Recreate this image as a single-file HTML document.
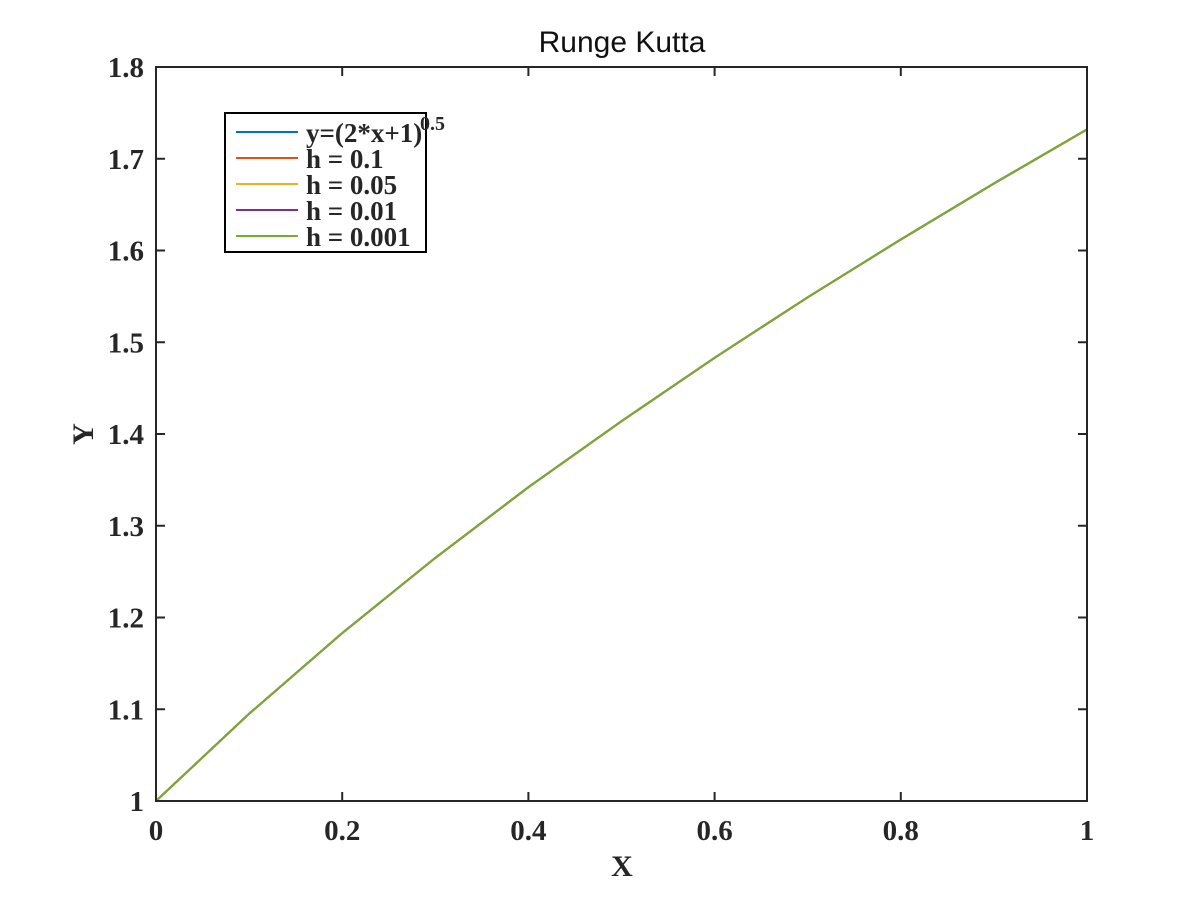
<!DOCTYPE html>
<html><head><meta charset="utf-8"><style>
html,body{margin:0;padding:0;background:#fff;}
svg text.t{font-family:"Liberation Serif",serif;font-weight:bold;font-size:29px;fill:#262626;}
</style></head><body>
<svg id="c" width="1200" height="900" xmlns="http://www.w3.org/2000/svg">
<rect width="1200" height="900" fill="#fff"/>
<text x="622" y="52" text-anchor="middle" font-family="Liberation Sans, sans-serif" font-size="30" fill="#111">Runge Kutta</text>
<g id="series"></g>
<rect x="156" y="67" width="931" height="734" fill="none" stroke="#262626" stroke-width="2"/>
<g id="axes"></g>
<text x="622" y="876" text-anchor="middle" font-family="Liberation Serif, serif" font-weight="bold" font-size="30" fill="#262626">X</text>
<text transform="translate(93,434) rotate(-90)" text-anchor="middle" font-family="Liberation Serif, serif" font-weight="bold" font-size="30" fill="#262626">Y</text>
<g>
<rect x="225" y="113" width="201" height="139" fill="#fff" stroke="#000" stroke-width="2"/>
<g id="leg"></g>
</g>
</svg>
<script>
const xs = [0,0.1,0.2,0.3,0.4,0.5,0.6,0.7,0.8,0.9,1.0];
const exact = [1,1.095,1.183,1.265,1.342,1.414,1.483,1.549,1.612,1.673,1.732];
const h01 = [1,1.095,1.183,1.265,1.342,1.414,1.483,1.549,1.612,1.673,1.732];
const h005 = [1,1.095,1.183,1.265,1.342,1.414,1.483,1.549,1.612,1.673,1.732];
const h0001 = [1,1.095,1.183,1.265,1.342,1.414,1.483,1.549,1.612,1.673,1.732];
const h00001 = [1,1.095,1.183,1.265,1.342,1.414,1.483,1.549,1.612,1.673,1.732];
const xTicks = [0,0.2,0.4,0.6,0.8,1];
const xTickLabels = ["0","0.2","0.4","0.6","0.8","1"];
const yTicks = [1,1.1,1.2,1.3,1.4,1.5,1.6,1.7,1.8];
const yTickLabels = ["1","1.1","1.2","1.3","1.4","1.5","1.6","1.7","1.8"];
const legendLabels = ["y=(2*x+1)","h = 0.1","h = 0.05","h = 0.01","h = 0.001"];

const NS="http://www.w3.org/2000/svg";
const L=156,R=1087,T=67,B=801;
const sx=v=>L+(v-0)/(1-0)*(R-L);
const sy=v=>B-(v-1)/(1.8-1)*(B-T);
function mk(tag,attrs,parent){const e=document.createElementNS(NS,tag);for(const k in attrs)e.setAttribute(k,attrs[k]);parent.appendChild(e);return e;}
const axes=document.getElementById('axes');
xTicks.forEach((v,i)=>{
  const x=sx(v);
  let t=mk('line',{x1:x,x2:x,y1:B,y2:B-9,stroke:'#262626','stroke-width':2},axes);
  
  
  let t2=mk('line',{x1:x,x2:x,y1:T,y2:T+9,stroke:'#262626','stroke-width':2},axes);
  
  
  let l=mk('text',{x:x,y:B+39,'text-anchor':'middle',class:'t'},axes);
  l.textContent=xTickLabels[i];
  
  
});
yTicks.forEach((v,i)=>{
  const y=sy(v);
  let t=mk('line',{x1:L,x2:L+9,y1:y,y2:y,stroke:'#262626','stroke-width':2},axes);
  
  
  let t2=mk('line',{x1:R,x2:R-9,y1:y,y2:y,stroke:'#262626','stroke-width':2},axes);
  
  
  let l=mk('text',{x:L-12,y:y+10,'text-anchor':'end',class:'t'},axes);
  l.textContent=yTickLabels[i];
  
  
});
const series=[exact,h01,h005,h0001,h00001];
const colors=['#0072BD','#D95319','#EDB120','#7E2F8E','#77AC30'];
const names=['series-exact','series-h-0-1','series-h-0-05','series-h-0-01','series-h-0-001'];
const sg=document.getElementById('series');
series.forEach((s,k)=>{
  const d=s.map((v,i)=>(i?'L':'M')+sx(xs[i]).toFixed(1)+','+sy(v).toFixed(1)).join(' ');
  let p=mk('path',{d:d,fill:'none',stroke:colors[k],'stroke-width':2},sg);
  
  
});
const leg=document.getElementById('leg');
legendLabels.forEach((lab,i)=>{
  const y=132+i*26;
  let ln=mk('line',{x1:236,x2:298,y1:y,y2:y,stroke:colors[i],'stroke-width':2},leg);
  
  
  let tx=mk('text',{x:306,y:y+10,class:'t'},leg);
  tx.style.fontSize='27px';
  tx.textContent=lab;
  
  
  if(i===0){
    let sup=mk('text',{x:420,y:y-2,class:'t'},leg);
    sup.style.fontSize='20px';
    sup.textContent='0.5';
    
    
  }
});
</script>
</body></html>
